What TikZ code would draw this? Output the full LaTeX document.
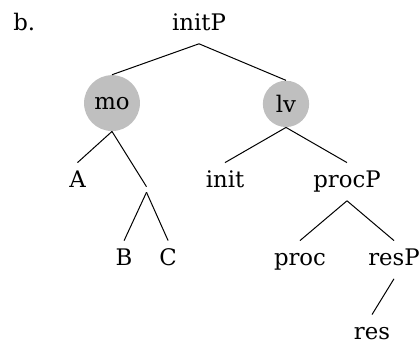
\documentclass[tikz,border=0pt]{standalone}
\usepackage{fontspec}
\setmainfont{DejaVu Serif}
\usetikzlibrary{positioning}
\tikzstyle{word} = [text height=9.2pt, text depth=2.9pt, inner sep=3.3pt]
\tikzstyle{head} = [circle, fill=black!25, inner sep=3.5pt]
\tikzstyle{empty} = [inner sep=1.2pt]
\tikzstyle{branch} = [line width=0.5pt]

\begin{document}
\begin{tikzpicture}[on grid, font=\fontsize{11.4}{13.5}\selectfont]
    \useasboundingbox (0,0) rectangle (210pt,-173.5pt);
    % Label
    \node (label) [word, anchor=base west] at (3.2pt,-15.5pt) {b.};

    % Root
    \node (initP) [word] at (99.5pt,-12.35pt) {initP};

    % Level 1
    \node (mo) [head, below left=39.2pt and 43.5pt of initP] {mo};
    \node (lv) [head, below right=39.6pt and 43.5pt of initP] {lv};

    % Level 2
    \node (A) [word, below left=39.3pt and 17.25pt of mo] {A};
    \node (apex) [empty, below right=43.2pt and 17.25pt of mo] {};
    \node (init) [word, below left=38.9pt and 30.5pt of lv] {init};
    \node (procP) [word, below right=38.9pt and 30.5pt of lv] {procP};

    % Level 3
    \node (B) [word, below left=35.1pt and 11.2pt of apex] {B};
    \node (C) [word, below right=35.1pt and 10.8pt of apex] {C};
    \node (proc) [word, below left=39pt and 23.5pt of procP] {proc};
    \node (resP) [word, below right=39pt and 23.5pt of procP] {resP};

    % Level 4
    \node (res) [word, below left=37pt and 11pt of resP] {res};

    % Edges
    \draw [branch] (initP.south) -- (mo.north);
    \draw [branch] (initP.south) -- (lv.north);
    \draw [branch] (mo.south) -- (A.north);
    \draw [branch] (mo.south) -- (apex.north);
    \draw [branch] (apex.south) -- (B.north);
    \draw [branch] (apex.south) -- (C.north);
    \draw [branch] (lv.south) -- (init.north);
    \draw [branch] (lv.south) -- (procP.north);
    \draw [branch] (procP.south) -- (proc.north);
    \draw [branch] (procP.south) -- (resP.north);
    \draw [branch] (resP.south) -- (res.north);
\end{tikzpicture}
\end{document}
